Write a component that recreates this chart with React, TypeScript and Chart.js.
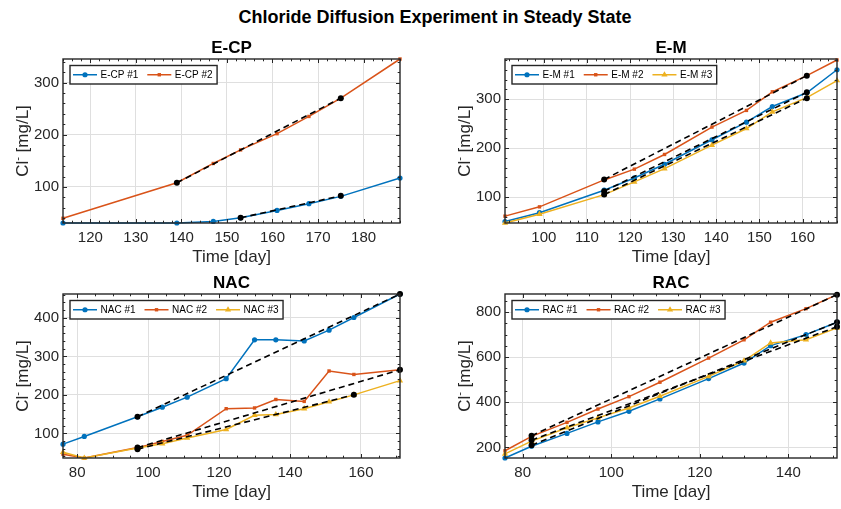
import React, { useEffect, useRef } from 'react';
import { Chart, registerables } from 'chart.js';

Chart.register(...registerables);

const BLUE = '#0072BD';
const ORANGE = '#D95319';
const YELLOW = '#EDB120';
const AX = '#262626';
const GRID = '#dfdfdf';
const FONT = '"Liberation Sans", Arial, Helvetica, sans-serif';

const MAIN_TITLE = 'Chloride Diffusion Experiment in Steady State';
const X_LABEL = 'Time [day]';

// ---------- E-CP ----------
const ecpDays = [114, 139, 147, 153, 161, 168, 175, 188];
const ecp1 = [31, 31, 34, 41, 55, 68, 82, 117];
const ecp2 = [40, 108, 145, 171, 202, 235, 270, 345];
const ecp1FitDays = [153, 175];
const ecp1FitValues = [41, 83];
const ecp2FitDays = [139, 175];
const ecp2FitValues = [108, 270];
const ecpXTicks = [120, 130, 140, 150, 160, 170, 180];
const ecpYTicks = [100, 200, 300];
const ecpLabels = ['E-CP #1', 'E-CP #2'];

// ---------- E-M ----------
const emDays = [91, 99, 114, 121, 128, 139, 147, 153, 161, 168];
const em1 = [50, 68, 114, 139, 167, 217, 253, 285, 313, 360];
const em2 = [61, 80, 135, 157, 187, 243, 277, 315, 348, 380];
const em3 = [47, 65, 105, 131, 158, 206, 240, 274, 303, 338];
const em1FitDays = [114, 161];
const em1FitValues = [112, 314];
const em2FitDays = [114, 161];
const em2FitValues = [136, 348];
const em3FitDays = [114, 161];
const em3FitValues = [105, 302];
const emXTicks = [100, 110, 120, 130, 140, 150, 160];
const emYTicks = [100, 200, 300];
const emLabels = ['E-M #1', 'E-M #2', 'E-M #3'];

// ---------- NAC ----------
const nacDays = [76, 82, 97, 104, 111, 122, 130, 136, 144, 151, 158, 171];
const nac1 = [72, 92, 143, 168, 194, 242, 343, 343, 340, 368, 401, 462];
const nac2 = [46, 36, 63, 79, 95, 164, 166, 188, 183, 262, 253, 265];
const nac3 = [51, 36, 62, 73, 88, 110, 147, 149, 164, 182, 200, 237];
const nac1FitDays = [97, 171];
const nac1FitValues = [143, 462];
const nac2FitDays = [97, 171];
const nac2FitValues = [63, 265];
const nac3FitDays = [97, 158];
const nac3FitValues = [59, 200];
const nacXTicks = [80, 100, 120, 140, 160];
const nacYTicks = [100, 200, 300, 400];
const nacLabels = ['NAC #1', 'NAC #2', 'NAC #3'];

// ---------- RAC ----------
const racDays = [76, 82, 90, 97, 104, 111, 122, 130, 136, 144, 151];
const rac1 = [153, 205, 262, 313, 360, 415, 505, 574, 651, 700, 755];
const rac2 = [185, 249, 311, 370, 425, 489, 596, 677, 755, 815, 877];
const rac3 = [171, 228, 287, 331, 375, 427, 515, 584, 663, 677, 730];
const rac1FitDays = [82, 151];
const rac1FitValues = [210, 755];
const rac2FitDays = [82, 151];
const rac2FitValues = [252, 877];
const rac3FitDays = [82, 151];
const rac3FitValues = [232, 735];
const racXTicks = [80, 100, 120, 140];
const racYTicks = [200, 400, 600, 800];
const racLabels = ['RAC #1', 'RAC #2', 'RAC #3'];

type Style = 'circle' | 'rect' | 'triangle';
interface Series { label: string; days: number[]; values: number[]; color: string; style: Style; radius: number; }
interface Fit { days: number[]; values: number[]; }
interface PanelDef {
  title: string;
  canvas: { x: number; y: number; w: number; h: number };
  area: { left: number; top: number; right: number; bottom: number };
  xMin: number; xMax: number; yMin: number; yMax: number;
  xTicks: number[]; yTicks: number[]; xMinor: number; yMinor: number;
  series: Series[]; fits: Fit[];
}

const STYLES: { color: string; style: Style; radius: number }[] = [
  { color: BLUE, style: 'circle', radius: 2.6 },
  { color: ORANGE, style: 'rect', radius: 2.4 },
  { color: YELLOW, style: 'triangle', radius: 3.6 },
];

function mkSeries(labels: string[], days: number[], vals: number[][]): Series[] {
  return vals.map((v, i) => ({ label: labels[i], days, values: v, ...STYLES[i] }));
}

const PANELS: PanelDef[] = [
  {
    title: 'E-CP',
    canvas: { x: 0, y: 30, w: 420, h: 240 },
    area: { left: 63, top: 59, right: 400, bottom: 223 },
    xMin: 114, xMax: 188, yMin: 31, yMax: 345,
    xTicks: ecpXTicks, yTicks: ecpYTicks, xMinor: 2, yMinor: 20,
    series: mkSeries(ecpLabels, ecpDays, [ecp1, ecp2]),
    fits: [
      { days: ecp1FitDays, values: ecp1FitValues },
      { days: ecp2FitDays, values: ecp2FitValues },
    ],
  },
  {
    title: 'E-M',
    canvas: { x: 420, y: 30, w: 421, h: 240 },
    area: { left: 505, top: 59, right: 840, bottom: 223 },
    xMin: 91, xMax: 168, yMin: 47, yMax: 382,
    xTicks: emXTicks, yTicks: emYTicks, xMinor: 2, yMinor: 20,
    series: mkSeries(emLabels, emDays, [em1, em2, em3]),
    fits: [
      { days: em1FitDays, values: em1FitValues },
      { days: em2FitDays, values: em2FitValues },
      { days: em3FitDays, values: em3FitValues },
    ],
  },
  {
    title: 'NAC',
    canvas: { x: 0, y: 270, w: 420, h: 239 },
    area: { left: 63, top: 294, right: 400, bottom: 458 },
    xMin: 76, xMax: 171, yMin: 36, yMax: 462,
    xTicks: nacXTicks, yTicks: nacYTicks, xMinor: 5, yMinor: 20,
    series: mkSeries(nacLabels, nacDays, [nac1, nac2, nac3]),
    fits: [
      { days: nac1FitDays, values: nac1FitValues },
      { days: nac2FitDays, values: nac2FitValues },
      { days: nac3FitDays, values: nac3FitValues },
    ],
  },
  {
    title: 'RAC',
    canvas: { x: 420, y: 270, w: 421, h: 239 },
    area: { left: 505, top: 294, right: 840, bottom: 458 },
    xMin: 76, xMax: 151, yMin: 153, yMax: 880,
    xTicks: racXTicks, yTicks: racYTicks, xMinor: 5, yMinor: 50,
    series: mkSeries(racLabels, racDays, [rac1, rac2, rac3]),
    fits: [
      { days: rac1FitDays, values: rac1FitValues },
      { days: rac2FitDays, values: rac2FitValues },
      { days: rac3FitDays, values: rac3FitValues },
    ],
  },
];

function drawMarker(ctx: CanvasRenderingContext2D, style: Style, x: number, y: number, r: number, color: string) {
  ctx.save();
  ctx.fillStyle = color;
  ctx.beginPath();
  if (style === 'circle') {
    ctx.arc(x, y, r, 0, Math.PI * 2);
  } else if (style === 'rect') {
    const s = r * Math.SQRT1_2;
    ctx.rect(x - s, y - s, 2 * s, 2 * s);
  } else {
    ctx.moveTo(x, y - r);
    ctx.lineTo(x + r * 0.87, y + r * 0.5);
    ctx.lineTo(x - r * 0.87, y + r * 0.5);
    ctx.closePath();
  }
  ctx.fill();
  ctx.restore();
}

function makeChart(canvas: HTMLCanvasElement, p: PanelDef) {
  const W = p.canvas.w;
  const H = p.canvas.h;
  const L = p.area.left - p.canvas.x;
  const T = p.area.top - p.canvas.y;
  const R = p.canvas.x + W - p.area.right;
  const B = p.canvas.y + H - p.area.bottom;

  const datasets: any[] = [];
  p.fits.forEach((f) => {
    datasets.push({
      data: f.days.map((d, i) => ({ x: d, y: f.values[i] })),
      showLine: true,
      borderColor: '#000',
      backgroundColor: '#000',
      borderDash: [6, 4],
      borderWidth: 1.6,
      pointRadius: 3,
      pointBorderWidth: 0,
      pointStyle: 'circle',
      order: 0,
      clip: false,
    });
  });
  p.series.forEach((s, k) => {
    datasets.push({
      label: s.label,
      data: s.days.map((d, i) => ({ x: d, y: s.values[i] })),
      showLine: true,
      borderColor: s.color,
      backgroundColor: s.color,
      borderWidth: 1.5,
      pointRadius: s.radius,
      pointBorderWidth: 0,
      pointStyle: s.style,
      order: 10 - k,
      clip: false,
    });
  });

  const decor = {
    id: 'matlabDecor',
    afterDatasetsDraw(chart: any) {
      const ctx: CanvasRenderingContext2D = chart.ctx;
      const ca = chart.chartArea;
      const xs = chart.scales.x;
      const ys = chart.scales.y;
      ctx.save();
      ctx.strokeStyle = AX;
      ctx.lineWidth = 1;
      const seg = (x1: number, y1: number, x2: number, y2: number) => {
        ctx.beginPath(); ctx.moveTo(x1, y1); ctx.lineTo(x2, y2); ctx.stroke();
      };
      for (let v = Math.ceil(p.xMin / p.xMinor) * p.xMinor; v <= p.xMax; v += p.xMinor) {
        const px = Math.round(xs.getPixelForValue(v)) + 0.5;
        const len = p.xTicks.includes(v) ? 4 : 2.3;
        seg(px, ca.bottom, px, ca.bottom - len);
        seg(px, ca.top, px, ca.top + len);
      }
      for (let v = Math.ceil(p.yMin / p.yMinor) * p.yMinor; v <= p.yMax; v += p.yMinor) {
        const py = Math.round(ys.getPixelForValue(v)) + 0.5;
        const len = p.yTicks.includes(v) ? 4 : 2.3;
        seg(ca.left, py, ca.left + len, py);
        seg(ca.right, py, ca.right - len, py);
      }
      ctx.lineWidth = 1.4;
      ctx.strokeRect(ca.left, ca.top, ca.right - ca.left, ca.bottom - ca.top);
      ctx.restore();
    },
    afterDraw(chart: any) {
      const ctx: CanvasRenderingContext2D = chart.ctx;
      const ca = chart.chartArea;
      ctx.save();
      // title
      ctx.fillStyle = '#000';
      ctx.font = `bold 17px ${FONT}`;
      ctx.textAlign = 'center';
      ctx.textBaseline = 'alphabetic';
      ctx.fillText(p.title, (ca.left + ca.right) / 2, ca.top - 6);
      // x label
      ctx.fillStyle = AX;
      ctx.font = `17px ${FONT}`;
      ctx.fillText(X_LABEL, (ca.left + ca.right) / 2, ca.bottom + 39);
      // y label
      ctx.save();
      ctx.translate(ca.left - 41, (ca.top + ca.bottom) / 2);
      ctx.rotate(-Math.PI / 2);
      ctx.textAlign = 'left';
      const big = `17px ${FONT}`;
      const small = `11px ${FONT}`;
      ctx.font = big;
      const w1 = ctx.measureText('Cl').width;
      const w3 = ctx.measureText(' [mg/L]').width;
      ctx.font = small;
      const w2 = ctx.measureText('-').width;
      const total = w1 + w2 + w3;
      let sx = -total / 2;
      const base = 6;
      ctx.font = big;
      ctx.fillText('Cl', sx, base);
      sx += w1;
      ctx.font = small;
      ctx.fillText('-', sx, base - 7);
      sx += w2;
      ctx.font = big;
      ctx.fillText(' [mg/L]', sx, base);
      ctx.restore();
      // legend
      ctx.font = `10px ${FONT}`;
      const widths = p.series.map((s) => ctx.measureText(s.label).width);
      const bx = ca.left + 7;
      const by = ca.top + 6.5;
      const bh = 18.5;
      let bw = 3;
      widths.forEach((w, i) => { bw += 27.5 + w + (i < widths.length - 1 ? 9 : 4.5); });
      ctx.fillStyle = '#fff';
      ctx.fillRect(bx, by, bw, bh);
      ctx.strokeStyle = AX;
      ctx.lineWidth = 1.4;
      ctx.strokeRect(bx, by, bw, bh);
      let cx = bx + 3;
      const cy = by + bh / 2;
      p.series.forEach((s, i) => {
        ctx.strokeStyle = s.color;
        ctx.lineWidth = 1.5;
        ctx.beginPath(); ctx.moveTo(cx, cy); ctx.lineTo(cx + 24, cy); ctx.stroke();
        drawMarker(ctx, s.style, cx + 12, cy, s.radius, s.color);
        ctx.fillStyle = '#000';
        ctx.textAlign = 'left';
        ctx.textBaseline = 'middle';
        ctx.fillText(s.label, cx + 27.5, cy + 0.5);
        cx += 27.5 + widths[i] + 9;
      });
      ctx.restore();
    },
  };

  return new Chart(canvas, {
    type: 'scatter',
    data: { datasets },
    options: {
      responsive: false,
      animation: false,
      devicePixelRatio: 1,
      layout: { padding: { left: 0, top: T, right: R, bottom: 0 } },
      plugins: { legend: { display: false }, tooltip: { enabled: false }, title: { display: false } },
      scales: {
        x: {
          type: 'linear',
          min: p.xMin,
          max: p.xMax,
          afterBuildTicks: (s: any) => { s.ticks = p.xTicks.map((v) => ({ value: v })); },
          afterFit: (s: any) => { s.height = B; },
          grid: { color: GRID, lineWidth: 1, drawTicks: false },
          border: { display: false },
          ticks: {
            font: { family: FONT, size: 15 },
            color: AX,
            padding: 6,
            maxRotation: 0,
            autoSkip: false,
          },
        },
        y: {
          type: 'linear',
          min: p.yMin,
          max: p.yMax,
          afterBuildTicks: (s: any) => { s.ticks = p.yTicks.map((v) => ({ value: v })); },
          afterFit: (s: any) => { s.width = L; },
          grid: { color: GRID, lineWidth: 1, drawTicks: false },
          border: { display: false },
          ticks: {
            font: { family: FONT, size: 15 },
            color: AX,
            padding: 4,
            autoSkip: false,
          },
        },
      },
    } as any,
    plugins: [decor],
  });
}

function Panel({ p }: { p: PanelDef }) {
  const ref = useRef<HTMLCanvasElement>(null);
  useEffect(() => {
    const chart = makeChart(ref.current as HTMLCanvasElement, p);
    return () => chart.destroy();
  }, [p]);
  return (
    <div style={{ position: 'absolute', left: p.canvas.x, top: p.canvas.y, width: p.canvas.w, height: p.canvas.h }}>
      <canvas ref={ref} width={p.canvas.w} height={p.canvas.h} style={{ width: p.canvas.w, height: p.canvas.h, display: 'block' }} />
    </div>
  );
}

export default function App() {
  return (
    <div style={{ position: 'fixed', left: 0, top: 0, width: 841, height: 509, background: '#fff', overflow: 'hidden' }}>
      <div
        style={{
          position: 'absolute', left: 235, top: 8, width: 400, textAlign: 'center',
          font: `bold 18px ${FONT}`, lineHeight: '18px', color: '#000', whiteSpace: 'nowrap',
        }}
      >
        {MAIN_TITLE}
      </div>
      {PANELS.map((p) => <Panel key={p.title} p={p} />)}
    </div>
  );
}
